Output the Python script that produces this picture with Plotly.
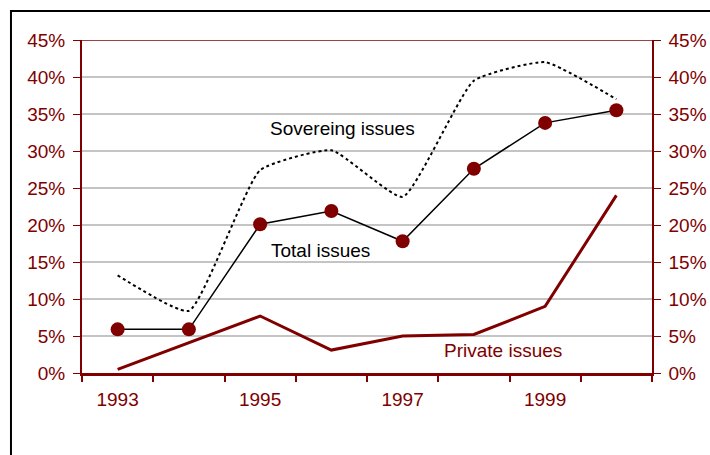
import plotly.graph_objects as go

years = ["1993", "1994", "1995", "1996", "1997", "1998", "1999", "2000"]
year_labels = ["1993", "", "1995", "", "1997", "", "1999", ""]
sovereign = [13.2, 8.4, 27.4, 30.1, 23.8, 39.5, 42.0, 37.0]
total = [5.9, 5.9, 20.1, 21.9, 17.8, 27.6, 33.8, 35.5]
private = [0.5, 4.1, 7.7, 3.1, 5.0, 5.2, 9.0, 24.0]
y_ticks = [0, 5, 10, 15, 20, 25, 30, 35, 40, 45]
y_tick_labels = [f"{v}%" for v in y_ticks]

RED = "#800000"
FONT = "Liberation Sans, Arial, sans-serif"

fig = go.Figure()
fig.add_trace(go.Scatter(
    x=years, y=sovereign, mode="lines",
    line=dict(color="black", width=2, dash="dot", shape="spline", smoothing=0.45),
    showlegend=False, hoverinfo="skip"))
fig.add_trace(go.Scatter(
    x=years, y=total, mode="lines+markers",
    line=dict(color="black", width=1.5),
    marker=dict(color=RED, size=14),
    showlegend=False, hoverinfo="skip"))
fig.add_trace(go.Scatter(
    x=years, y=private, mode="lines", yaxis="y2",
    line=dict(color=RED, width=3),
    showlegend=False, hoverinfo="skip"))

yax = dict(range=[0, 45], tickvals=y_ticks, ticktext=y_tick_labels,
           tickfont=dict(family=FONT, size=19, color=RED),
           ticks="outside", ticklen=7, tickcolor=RED, zeroline=False,
           ticklabelstandoff=4, automargin=False)

fig.update_layout(
    width=710, height=455, autosize=False,
    margin=dict(l=82, r=58, t=40, b=82),
    paper_bgcolor="white", plot_bgcolor="white",
    font=dict(family=FONT, size=19, color=RED),
    xaxis=dict(type="category", range=[-0.5, 7.5], tickvals=years, ticktext=year_labels,
               tickson="boundaries", ticks="outside", ticklen=6, tickcolor=RED, tickwidth=1.5,
               tickfont=dict(family=FONT, size=19, color=RED), ticklabelstandoff=7,
               automargin=False,
               showgrid=False, showline=True, linecolor=RED, linewidth=3),
    yaxis=dict(**yax, showgrid=True, gridcolor="#c4c4c4", gridwidth=2,
               showline=True, linecolor=RED, linewidth=2),
    yaxis2=dict(**yax, overlaying="y", side="right", showgrid=False,
                showline=True, linecolor=RED, linewidth=1.5),
    shapes=[
        dict(type="line", xref="paper", yref="y", x0=0, x1=1, y0=45, y1=45,
             line=dict(color=RED, width=1.5)),
        dict(type="rect", xref="paper", yref="paper", x0=-0.1246, x1=2, y0=-2, y1=1.087,
             line=dict(color="black", width=2), fillcolor="rgba(0,0,0,0)"),
    ],
    annotations=[
        dict(x=3.16, y=33.0, xref="x", yref="y", text="Sovereing issues", showarrow=False,
             font=dict(family=FONT, size=19, color="black")),
        dict(x=2.85, y=16.6, xref="x", yref="y", text="Total issues", showarrow=False,
             font=dict(family=FONT, size=19, color="black")),
        dict(x=5.41, y=3.0, xref="x", yref="y", text="Private issues", showarrow=False,
             font=dict(family=FONT, size=19, color=RED)),
    ],
)

fig.write_html("out.html")
